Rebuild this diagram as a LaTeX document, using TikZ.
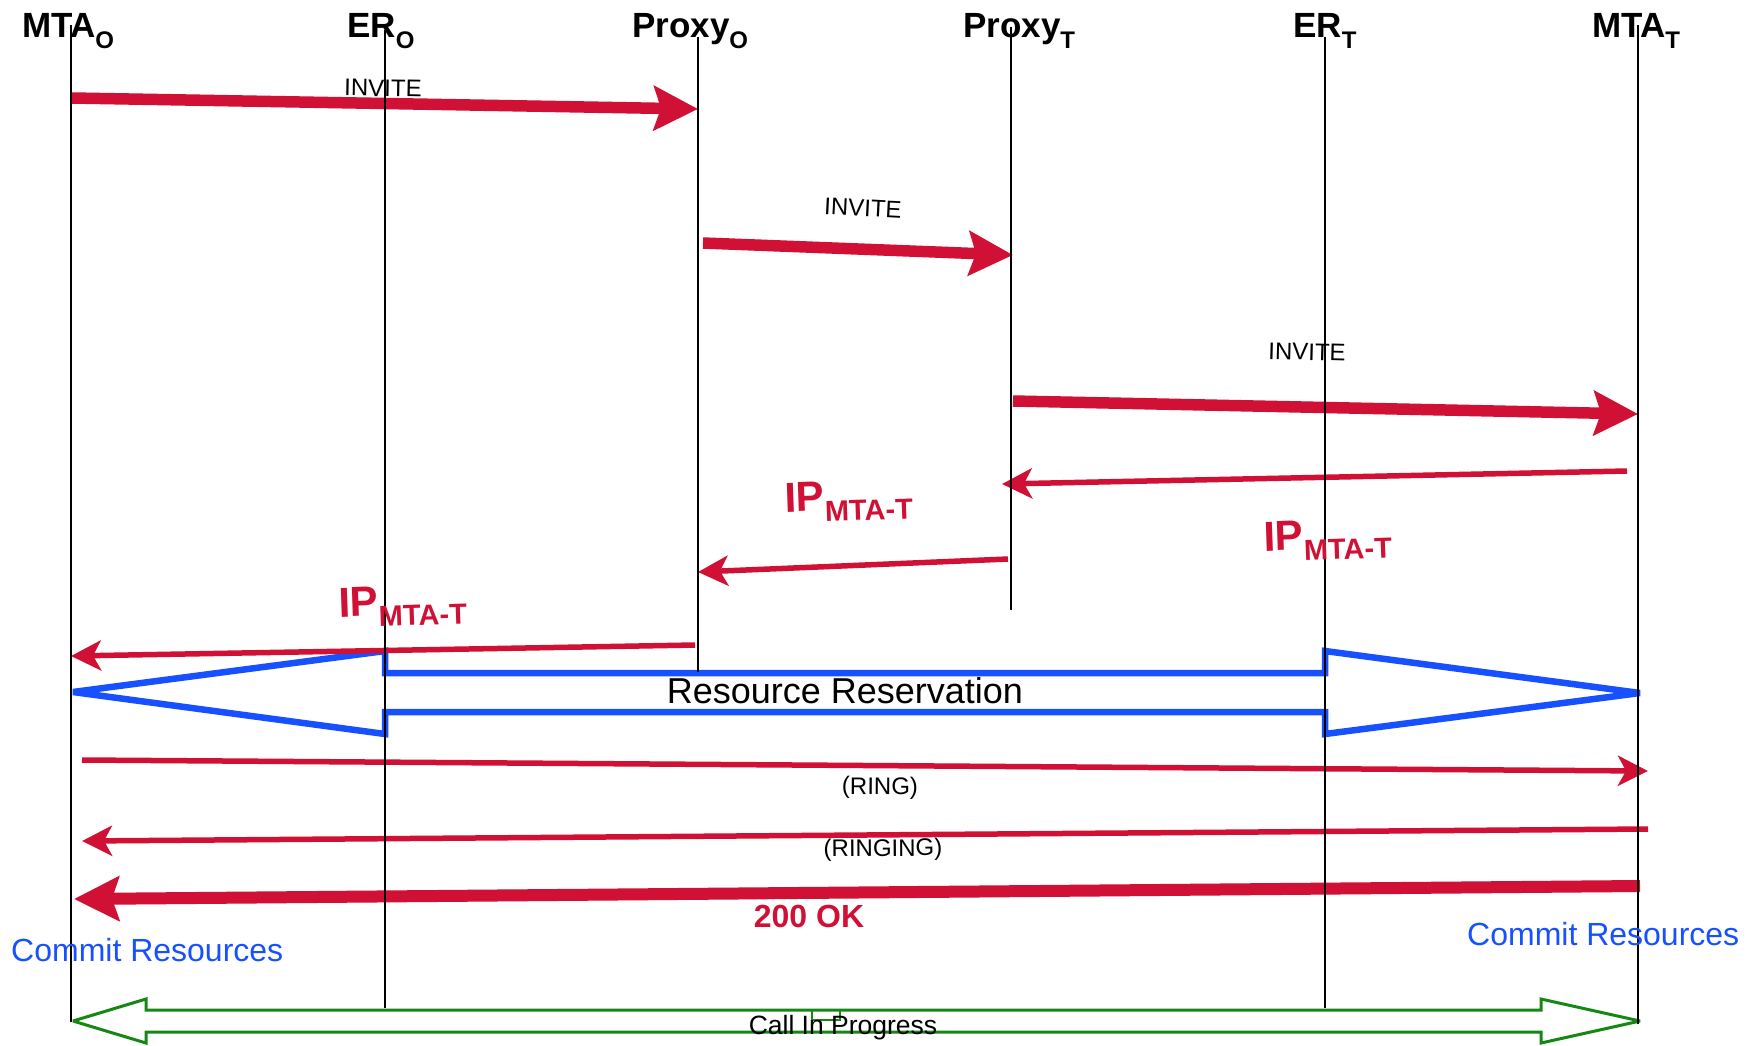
\documentclass[tikz,border=0pt]{standalone}
\usepackage{fontspec}
\setmainfont{Liberation Sans}
\usetikzlibrary{arrows.meta}
\definecolor{sred}{RGB}{208,16,52}
\definecolor{sblue}{RGB}{22,80,255}
\definecolor{sgreen}{RGB}{20,135,20}
\newcommand{\hd}[2]{#1\raisebox{-11pt}{\fontsize{24}{24}\selectfont #2}}
\newcommand{\ipt}{{\fontsize{42}{42}\selectfont IP}\raisebox{-11pt}{\fontsize{29}{29}\selectfont MTA-T}}
\begin{document}
\begin{tikzpicture}[x=1pt,y=-1pt,
  life/.style={draw=black, line width=2.6pt},
  bigmsg/.style={draw=sred, line width=11.5pt, -{Stealth[length=44pt,width=44pt,inset=7pt]}},
  smallmsg/.style={draw=sred, line width=5.5pt, -{Stealth[length=30pt,width=30pt,inset=8pt]}},
  hdr/.style={anchor=base west, inner sep=0pt, font=\fontsize{35}{40}\selectfont\bfseries},
  lbl/.style={inner sep=0pt, font=\fontsize{24}{28}\selectfont},
  iplbl/.style={anchor=base west, inner sep=0pt, text=sred, font=\bfseries, rotate=2},
  commit/.style={anchor=base west, inner sep=0pt, text=sblue, font=\fontsize{32}{36}\selectfont},
  resv/.style={draw=sblue, line width=6.5pt, line join=miter, miter limit=2},
  callp/.style={draw=sgreen, line width=3pt, line join=miter, miter limit=2}
]
\useasboundingbox (0,0) rectangle (1756,1045);

% lifeline end points
\coordinate (MOt) at (71,25);   \coordinate (MOb) at (71,1022);
\coordinate (EOt) at (385,30);  \coordinate (EOb) at (385,1008);
\coordinate (POt) at (698,37);  \coordinate (POb) at (698,672);
\coordinate (PTt) at (1011,27); \coordinate (PTb) at (1011,610);
\coordinate (ETt) at (1325,37); \coordinate (ETb) at (1325,1008);
\coordinate (MTt) at (1638,25); \coordinate (MTb) at (1638,1024);

% Resource reservation double arrow
\draw[resv] (73,692) -- (385,651) -- (385,673) -- (1325,673) -- (1325,651)
  -- (1640,693) -- (1325,734) -- (1325,712) -- (385,712) -- (385,734) -- cycle;
\node[anchor=base, inner sep=0pt, font=\fontsize{36}{40}\selectfont] (resvtext) at (845,703) {Resource Reservation};

% Call in progress double arrow
\draw[callp] (73,1021) -- (146,999) -- (146,1010) -- (1541,1010) -- (1541,999)
  -- (1640,1021) -- (1541,1043) -- (1541,1032) -- (146,1032) -- (146,1043) -- cycle;
\draw[draw=sgreen, line width=2pt] (812,1010) rectangle (840,1020);
\node[anchor=base, inner sep=0pt, font=\fontsize{26.5}{30}\selectfont] (calltext) at (843,1034) {Call In Progress};

% message end points
\coordinate (a1s) at (72,98);    \coordinate (a1e) at (698,109);
\coordinate (a2s) at (703,243);  \coordinate (a2e) at (1013,255);
\coordinate (a3s) at (1013,401); \coordinate (a3e) at (1638,414);
\coordinate (r1s) at (1627,471); \coordinate (r1e) at (1002,484);
\coordinate (r2s) at (1008,559); \coordinate (r2e) at (698,572);
\coordinate (r3s) at (695,645);  \coordinate (r3e) at (71,656);
\coordinate (rgs) at (82,760);   \coordinate (rge) at (1648,771);
\coordinate (rns) at (1648,829); \coordinate (rne) at (82,841);
\coordinate (oks) at (1640,886); \coordinate (oke) at (74,899);

\draw[bigmsg] (a1s) -- (a1e);
\draw[bigmsg] (a2s) -- (a2e);
\draw[bigmsg] (a3s) -- (a3e);
\draw[smallmsg] (r1s) -- (r1e);
\draw[smallmsg] (r2s) -- (r2e);
\draw[smallmsg] (r3s) -- (r3e);
\draw[smallmsg] (rgs) -- (rge);
\draw[smallmsg] (rns) -- (rne);
\draw[bigmsg, line width=12pt, -{Stealth[length=45pt,width=44pt,inset=7pt]}] (oks) -- (oke);

% lifelines
\draw[life] (MOt) -- (MOb);
\draw[life] (EOt) -- (EOb);
\draw[life] (POt) -- (POb);
\draw[life] (PTt) -- (PTb);
\draw[life] (ETt) -- (ETb);
\draw[life] (MTt) -- (MTb);

% headers
\node[hdr] (hMO) at (22,37)   {\hd{MTA}{O}};
\node[hdr] (hEO) at (347,37)  {\hd{ER}{O}};
\node[hdr] (hPO) at (632,37)  {\hd{Proxy}{O}};
\node[hdr] (hPT) at (963,37)  {\hd{Proxy}{T}};
\node[hdr] (hET) at (1293,37) {\hd{ER}{T}};
\node[hdr] (hMT) at (1592,37) {\hd{MTA}{T}};

% message labels
\node[lbl, rotate=-1] (l1) at (383,88) {INVITE};
\node[lbl, rotate=-3] (l2) at (863,208) {INVITE};
\node[lbl, rotate=-1.5] (l3) at (1307,352) {INVITE};
\node[iplbl] (ipA) at (785,512) {\ipt};
\node[iplbl] (ipB) at (1264,551) {\ipt};
\node[iplbl] (ipC) at (339,617) {\ipt};
\node[lbl, rotate=-0.4] (lring) at (880,788) {(RING)};
\node[lbl, rotate=0.4] (lringing) at (883,850) {(RINGING)};
\node[inner sep=0pt, text=sred, font=\fontsize{32}{36}\selectfont\bfseries] (lok) at (809,916) {200 OK};

% commit resources
\node[commit] (cl) at (11,961) {Commit Resources};
\node[commit] (cr) at (1467,945) {Commit Resources};
\end{tikzpicture}
\end{document}
